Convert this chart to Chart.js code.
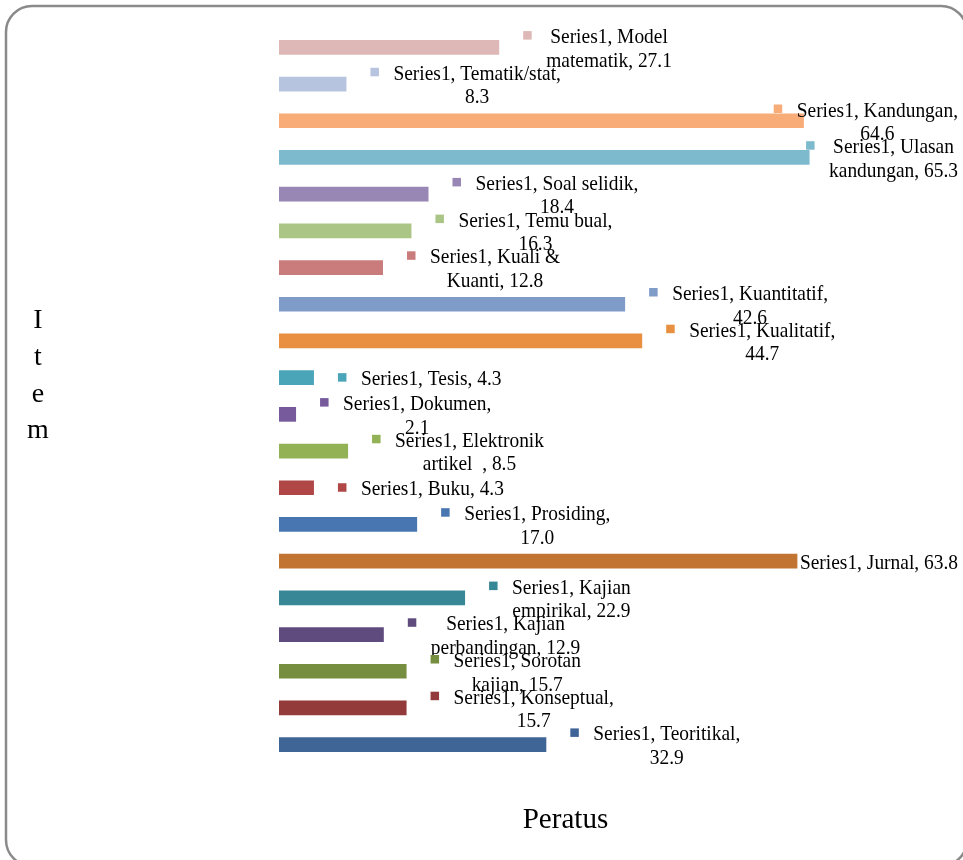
<!DOCTYPE html>
<html><head><meta charset="utf-8">
<script src="https://cdn.jsdelivr.net/npm/chart.js@4"></script>
<style>html,body{margin:0;padding:0;background:#fff}canvas{display:block}</style>
</head><body>
<canvas id="c" width="963" height="860"></canvas>
<script>
const seriesName = "Series1";
const categories = ["Model matematik","Tematik/stat","Kandungan","Ulasan kandungan","Soal selidik","Temu bual","Kuali & Kuanti","Kuantitatif","Kualitatif","Tesis","Dokumen","Elektronik artikel  ","Buku","Prosiding","Jurnal","Kajian empirikal","Kajian perbandingan","Sorotan kajian","Konseptual","Teoritikal"];
const values = [27.1,8.3,64.6,65.3,18.4,16.3,12.8,42.6,44.7,4.3,2.1,8.5,4.3,17.0,63.8,22.9,12.9,15.7,15.7,32.9];
const barColors = ["#DEB7B7","#B6C4DF","#F8AC78","#7EBACD","#9886B5","#ABC586","#C97C7B","#7F9CC8","#E8903F","#4BA5B9","#775A9B","#93B155","#B04646","#4876B0","#C27433","#378796","#5F4B7E","#758E3F","#933B3A","#3F6496"];
const xAxisTitle = "Peratus";
const yAxisTitle = "Item";

const SX = 0.925;
const FONT = "21px 'Liberation Serif'";
const LINE_H = 23.5;
const WRAP_W = 173;

function wrap(ctx, text){
  const words = text.split(' ');
  const lines = [];
  let cur = '';
  for (let i=0;i<words.length;i++){
    const w = words[i];
    const test = cur === '' && i===0 ? w : cur + ' ' + w;
    if (cur !== '' && ctx.measureText(test.trimEnd()).width*SX > WRAP_W){
      lines.push(cur);
      cur = w;
    } else cur = test;
  }
  if (cur !== '') lines.push(cur);
  return lines.map(l=>l.replace(/^ +/,''));
}

const decor = {
  id:'decor',
  beforeDraw(chart){
    const ctx = chart.ctx;
    ctx.save();
    ctx.fillStyle='#fff';
    ctx.fillRect(0,0,chart.width,chart.height);
    ctx.strokeStyle='#8a8a8a';
    ctx.lineWidth=2.5;
    ctx.beginPath();
    ctx.roundRect(6,6,961,860,26);
    ctx.stroke();
    ctx.restore();
  },
  afterDatasetsDraw(chart){
    const ctx = chart.ctx;
    const meta = chart.getDatasetMeta(0);
    ctx.save();
    ctx.font = FONT;
    ctx.fillStyle = '#000';
    meta.data.forEach((el,i)=>{
      const text = seriesName + ', ' + categories[i] + ', ' + values[i].toFixed(1);
      const lines = wrap(ctx, text);
      const widths = lines.map(l=>ctx.measureText(l).width*SX);
      const bw = Math.max(...widths);
      let sqX = el.x + 24;
      let blockL = sqX + 23;
      if (blockL + bw > 958){ const d = blockL + bw - 958; sqX -= d; blockL -= d; }
      const cx = blockL + bw/2;
      const y0 = el.y - (lines.length-1)*LINE_H/2;
      ctx.fillStyle = barColors[i];
      ctx.fillRect(sqX, y0-4.5, 8.5, 8.5);
      ctx.fillStyle = '#000';
      lines.forEach((l,k)=>{
        ctx.save();
        ctx.translate(cx, y0 + 2 + k*LINE_H);
        ctx.scale(SX,1);
        ctx.textAlign='center';
        ctx.textBaseline='middle';
        ctx.fillText(l,0,0);
        ctx.restore();
      });
    });
    // axis titles
    ctx.font = "28px 'Liberation Serif'";
    ctx.textAlign='center';
    ctx.textBaseline='alphabetic';
    yAxisTitle.split('').forEach((ch,k)=>{
      ctx.fillText(ch, 38, 328 + k*36.8);
    });
    ctx.save();
    ctx.font = "30px 'Liberation Serif'";
    ctx.translate(565.5, 828);
    ctx.scale(0.97,1);
    ctx.fillText(xAxisTitle, 0, 0);
    ctx.restore();
    ctx.restore();
  }
};

new Chart(document.getElementById('c'), {
  type:'bar',
  data:{ labels: categories, datasets:[{ label: seriesName, data: values, backgroundColor: barColors, borderWidth:0, barPercentage:0.4, categoryPercentage:1 }]},
  options:{
    indexAxis:'y', responsive:false, animation:false, devicePixelRatio:1,
    layout:{ padding:{ left:279, right:34, top:29, bottom:97 } },
    plugins:{ legend:{display:false}, tooltip:{enabled:false} },
    scales:{
      x:{ display:false, min:0, max:80 },
      y:{ display:false }
    }
  },
  plugins:[decor]
});
</script>
</body></html>
